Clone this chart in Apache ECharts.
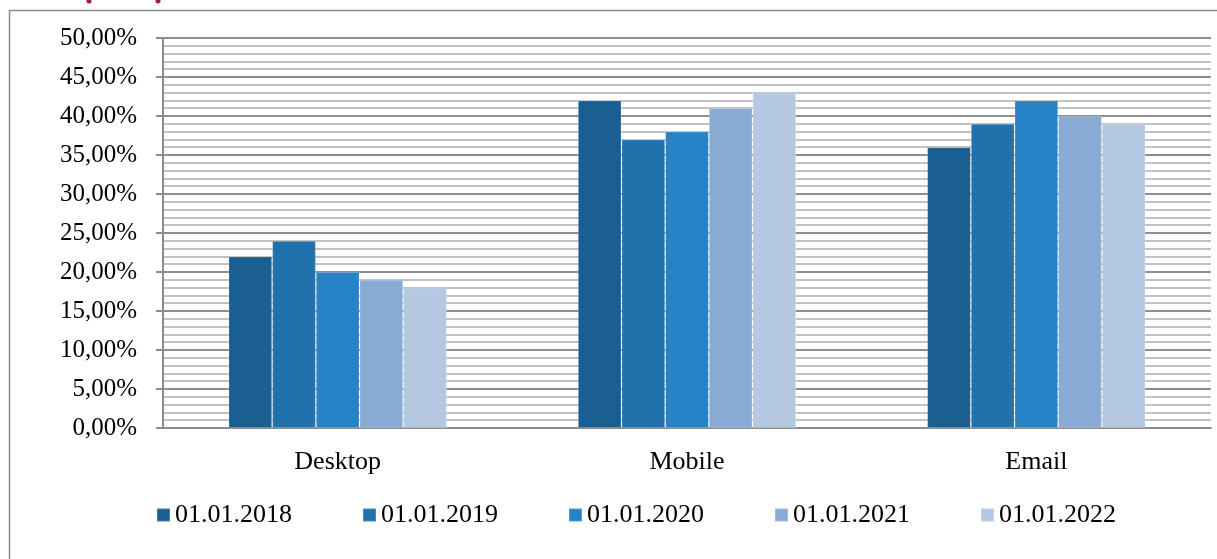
<!DOCTYPE html>
<html><head><meta charset="utf-8">
<script src="https://cdn.jsdelivr.net/npm/echarts@6/dist/echarts.min.js"></script>
<style>html,body{margin:0;padding:0;background:#fff}#c{width:1217px;height:559px}</style>
</head><body><div id="c"></div>
<script>
const categories = ['Desktop', 'Mobile', 'Email'];
const seriesNames = ['01.01.2018', '01.01.2019', '01.01.2020', '01.01.2021', '01.01.2022'];
const v2018 = [22, 42, 36];
const v2019 = [24, 37, 39];
const v2020 = [20, 38, 42];
const v2021 = [19, 41, 40];
const v2022 = [18, 43, 39];
const colors = ['#1b5e92', '#2171ad', '#2683c6', '#88aad5', '#b4c8e2'];
const allValues = [v2018, v2019, v2020, v2021, v2022];
const font = "'Liberation Serif', 'Times New Roman', serif";

const chart = echarts.init(document.getElementById('c'));
chart.setOption({
  animation: false,
  color: colors,
  grid: { left: 163, top: 38, right: 6, bottom: 131, containLabel: false },
  graphic: [
    { type: 'rect', shape: { x: 9.5, y: 10.5, width: 1400, height: 700 }, style: { fill: 'none', stroke: '#8c8c8c', lineWidth: 1.5 }, z: -1 },
    { type: 'circle', shape: { cx: 89, cy: 1, r: 2.5 }, style: { fill: '#a3174a' } },
    { type: 'circle', shape: { cx: 158, cy: 1, r: 2.5 }, style: { fill: '#a3174a' } }
  ],
  legend: {
    left: 151, top: 497, icon: 'rect', itemWidth: 13, itemHeight: 13, itemGap: 70,
    textStyle: { fontFamily: font, fontSize: 26, color: '#000' },
    data: seriesNames
  },
  xAxis: {
    type: 'category', data: categories,
    axisLine: { show: true, lineStyle: { color: '#8c8c8c', width: 2 } },
    axisTick: { show: false },
    axisLabel: { fontFamily: font, fontSize: 26, color: '#000', margin: 21 }
  },
  yAxis: {
    type: 'value', min: 0, max: 50, interval: 5,
    axisLine: { show: true, lineStyle: { color: '#8c8c8c', width: 2 } },
    axisTick: { show: true, length: 7, lineStyle: { color: '#8c8c8c', width: 2 } },
    axisLabel: { fontFamily: font, fontSize: 25, color: '#000', margin: 26,
      formatter: v => v.toFixed(2).replace('.', ',') + '%' },
    splitLine: { show: true, lineStyle: { color: '#8e8e8e', width: 2 } },
    minorTick: { show: false, splitNumber: 5 },
    minorSplitLine: { show: true, lineStyle: { color: '#c2c2c2', width: 2 } }
  },
  series: seriesNames.map((name, i) => ({
    name, type: 'bar', data: allValues[i],
    barGap: '0%', barCategoryGap: '37.5%',
    itemStyle: { borderColor: 'rgba(255,255,255,0.2)', borderWidth: 1 }
  }))
});
</script></body></html>
